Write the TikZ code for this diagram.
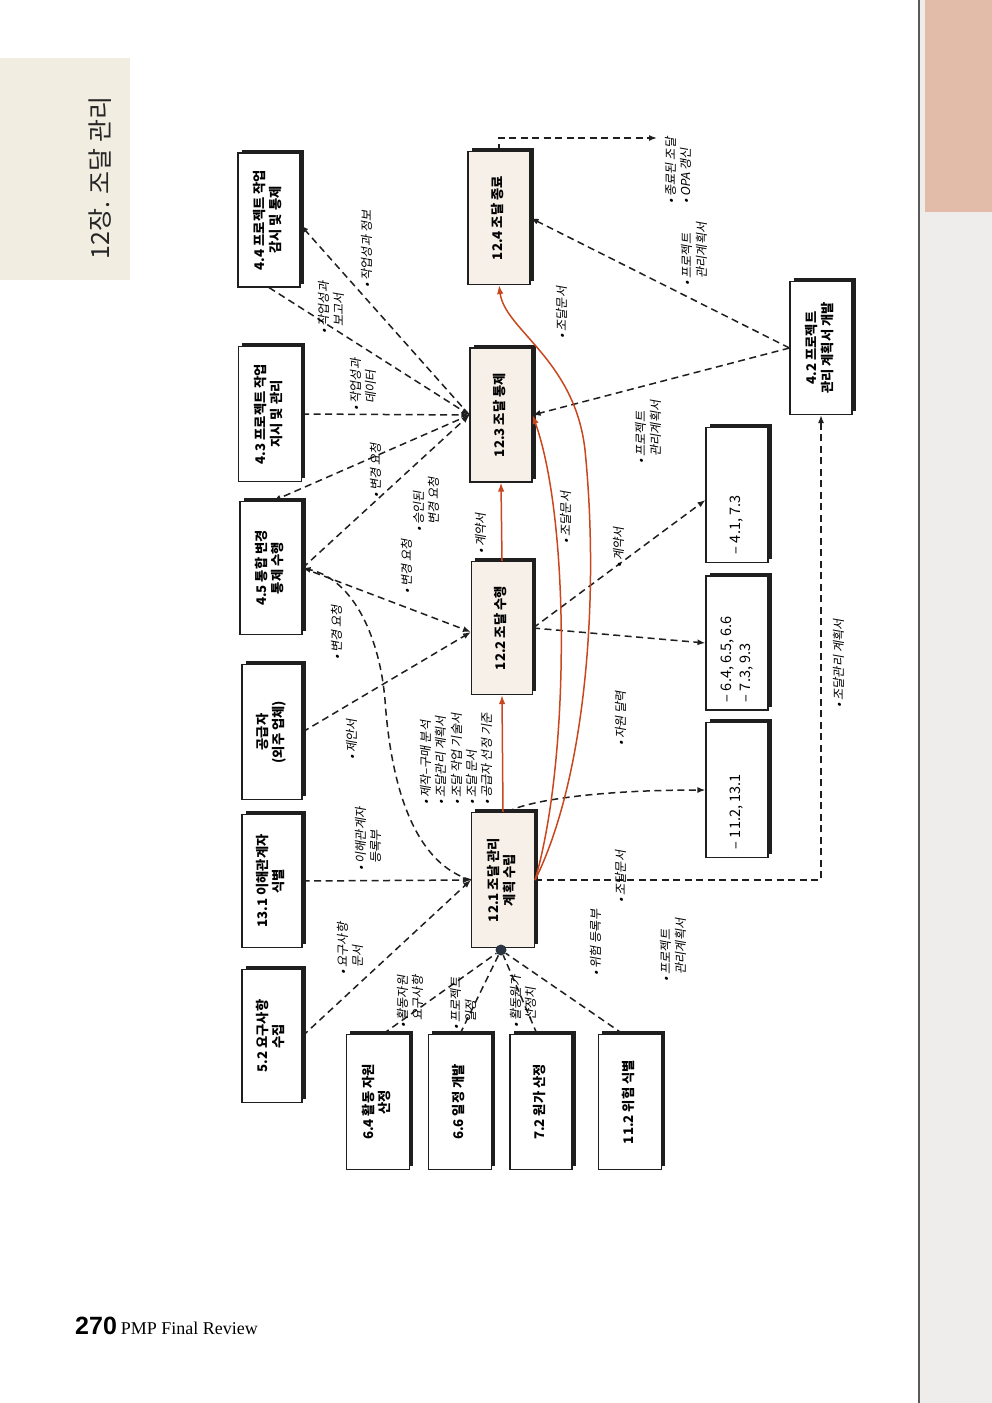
\documentclass[tikz,border=0pt]{standalone}
\usepackage{fontspec}
\usepackage{graphicx}
\setmainfont{Noto Sans CJK KR}
\newfontfamily\slfont{Noto Sans CJK KR}[FakeSlant=0.18]
\newfontfamily\serifface{Liberation Serif}
\newfontfamily\numface{Liberation Sans}
\usetikzlibrary{arrows.meta,shadows,calc}

\definecolor{ink}{HTML}{1F1F1F}
\definecolor{procfill}{HTML}{F7F0E8}
\definecolor{hotline}{HTML}{C9471F}
\definecolor{band}{HTML}{F2EDE1}
\definecolor{hdr}{HTML}{262626}
\definecolor{edgepink}{HTML}{E2BBA9}
\definecolor{edgegray}{HTML}{EEEDEC}
\definecolor{hubfill}{HTML}{2C3642}

% vertical (bottom-to-top) text block
\newcommand{\vt}[2][c]{\rotatebox{90}{\begin{tabular}{@{}#1@{}}#2\end{tabular}}}
\newcommand{\ind}{\phantom{•\ }}

\tikzset{
  box/.style={draw=ink, line width=1.1pt, fill=white, inner sep=0pt,
    general shadow={fill=ink, shadow xshift=3.5pt, shadow yshift=3.5pt},
    font=\bfseries\fontsize{13.3}{16.5}\selectfont},
  proc/.style={box, fill=procfill},
  refbox/.style={box, font=\fontsize{14.5}{19}\selectfont},
  flow/.style={draw=ink, line width=1.5pt, dash pattern=on 7pt off 4.5pt,
    -{Latex[length=8pt,width=6pt]}},
  feed/.style={draw=ink, line width=1.5pt, dash pattern=on 7pt off 4.5pt},
  hot/.style={draw=hotline, line width=1.5pt, -{Latex[length=9pt,width=6.5pt]}},
  lbl/.style={font=\slfont\fontsize{12.3}{15.3}\selectfont, inner sep=0pt, anchor=south},
}

\begin{document}
\begin{tikzpicture}[x=1pt,y=-1pt]
\path[use as bounding box] (0,0) rectangle (992,1403);
\fill[white] (0,0) rectangle (992,1403);

% page edge and chapter tab
\fill[edgegray] (918,0) rectangle (992,1403);
\fill[edgepink] (925,0) rectangle (992,212);
\draw[gray!70!black, line width=2.5pt] (919,0) -- (919,1403);
\fill[band] (0,58) rectangle (130,280);
\node[text=hdr, font=\fontsize{25}{25}\selectfont, inner sep=0pt] (chap) at (100,178) {\rotatebox{90}{12장. 조달 관리}};

% input / output processes
\node[box, minimum width=62pt, minimum height=134pt] (b44) at (269,220) {\vt{4.4 프로젝트 작업\\감시 및 통제}};
\node[box, minimum width=63pt, minimum height=135pt] (b43) at (270,414) {\vt{4.3 프로젝트 작업\\지시 및 관리}};
\node[box, minimum width=62pt, minimum height=133pt] (b45) at (271,568) {\vt{4.5 통합 변경\\통제 수행}};
\node[box, minimum width=60pt, minimum height=135pt] (bsup) at (272,732) {\vt{공급자\\(외주 업체)}};
\node[box, minimum width=60pt, minimum height=133pt] (b131) at (272,881) {\vt{13.1 이해관계자\\식별}};
\node[box, minimum width=60pt, minimum height=133pt] (b52) at (272,1036) {\vt{5.2 요구사항\\수집}};
\node[box, minimum width=63pt, minimum height=135pt] (b64) at (378,1102) {\vt{6.4 활동 자원\\산정}};
\node[box, minimum width=63pt, minimum height=135pt] (b66) at (460,1102) {\vt{6.6 일정 개발}};
\node[box, minimum width=62pt, minimum height=135pt] (b72) at (541,1102) {\vt{7.2 원가 산정}};
\node[box, minimum width=63pt, minimum height=135pt] (b112) at (630,1102) {\vt{11.2 위험 식별}};
\node[box, minimum width=62pt, minimum height=133pt] (b42) at (821,348) {\vt{4.2 프로젝트\\관리 계획서 개발}};

% procurement processes
\node[proc, minimum width=62pt, minimum height=133pt] (p124) at (499,218) {\vt{12.4 조달 종료}};
\node[proc, minimum width=62pt, minimum height=134pt] (p123) at (501,415) {\vt{12.3 조달 통제}};
\node[proc, minimum width=61pt, minimum height=133pt] (p122) at (502,628) {\vt{12.2 조달 수행}};
\node[proc, minimum width=63pt, minimum height=135pt] (p121) at (503,880) {\vt{12.1 조달 관리\\계획 수립}};

% knowledge-area references
\node[refbox, minimum width=62pt, minimum height=135pt] (o1) at (737,495) {\vt{\begin{tabular}{@{}p{118pt}@{}}– 4.1, 7.3\end{tabular}}};
\node[refbox, minimum width=62pt, minimum height=134pt] (o2) at (737,643) {\vt{\begin{tabular}{@{}p{118pt}@{}}– 6.4, 6.5, 6.6\\– 7.3, 9.3\end{tabular}}};
\node[refbox, minimum width=62pt, minimum height=135pt] (o3) at (737,790) {\vt{\begin{tabular}{@{}p{118pt}@{}}– 11.2, 13.1\end{tabular}}};

% junction under 12.1
\node[circle, fill=hubfill, minimum size=11pt, inner sep=0pt] (hub) at (501,950) {};
\coordinate (out124) at (657,138);

% dashed flows
\draw[flow] (b44.south) -- (p123.west);
\draw[flow] (p123.west) -- ($(b44.east)+(0,5)$);
\draw[flow] (b43.east) -- (p123.west);
\draw[flow] (p123.west) -- ($(b45.north)+(2,0)$);
\draw[flow] (b45.east) -- (p123.west);
\draw[flow] (b45.east) -- ($(p122.west)+(0,4)$);
\draw[flow] (bsup.east) -- ($(p122.west)+(0,4)$);
\draw[flow] (p121.west) .. controls (420,865) and (392,800) .. (385,700)
                        .. controls (380,640) and (355,580) .. (b45.east);
\draw[flow] (b131.east) -- (p121.west);
\draw[flow] (b52.east) -- (p121.west);
\draw[feed] ($(b64.north)+(5,0)$) -- (hub);
\draw[feed] (b66.north) -- (hub);
\draw[feed] ($(b72.north)+(-4,0)$) -- (hub);
\draw[feed] ($(b112.north)+(-7,0)$) -- (hub);
\draw[flow] (p122.east) -- (o2.west);
\draw[flow] (p122.east) -- ($(o1.west)+(0,5)$);
\draw[flow] ($(p121.north east)+(-28,0)$) .. controls (530,800) and (600,790) .. (o3.west);
\draw[flow] (p121.east) -| (b42.south);
\draw[flow] (b42.west) -- (p123.east);
\draw[flow] (b42.west) -- (p124.east);
\draw[flow] (p124.north) |- (out124);

% solid procurement chain
\draw[hot] (p121.north) -- (p122.south);
\draw[hot] (p122.north) -- (p123.south);
\draw[hot] (p121.east) .. controls (570,760) and (570,520) .. (p123.east);
\draw[hot] (p121.east) .. controls (585,780) and (600,600) .. (585,450)
                       .. controls (575,360) and (505,330) .. (p124.south);

% labels
\node[lbl] (l1) at (368,288) {\vt[l]{• 작업성과 정보}};
\node[lbl] (l2) at (333,334) {\vt[l]{• 작업성과\\\ind 보고서}};
\node[lbl] (l3) at (365,411) {\vt[l]{• 작업성과\\\ind 데이터}};
\node[lbl] (l4) at (377,498) {\vt[l]{• 변경 요청}};
\node[lbl] (l5) at (428,532) {\vt[l]{• 승인된\\\ind 변경 요청}};
\node[lbl] (l6) at (408,594) {\vt[l]{• 변경 요청}};
\node[lbl] (l7) at (338,660) {\vt[l]{• 변경 요청}};
\node[lbl] (l8) at (353,760) {\vt[l]{• 제안서}};
\node[lbl] (l9) at (370,871) {\vt[l]{• 이해관계자\\\ind 등록부}};
\node[lbl] (l10) at (352,975) {\vt[l]{• 요구사항\\\ind 문서}};
\node[lbl] (l11) at (412,1028) {\vt[l]{• 활동자원\\\ind 요구사항}};
\node[lbl] (l12) at (465,1030) {\vt[l]{• 프로젝트\\\ind 일정}};
\node[lbl] (l13) at (525,1028) {\vt[l]{• 활동원가\\\ind 산정치}};
\node[lbl] (l14) at (597,976) {\vt[l]{• 위험 등록부}};
\node[lbl] (l15) at (675,982) {\vt[l]{• 프로젝트\\\ind 관리계획서}};
\node[lbl] (l16) at (622,903) {\vt[l]{• 조달문서}};
\node[lbl] (l17) at (622,746) {\vt[l]{• 자원 달력}};
\node[lbl] (l18) at (620,568) {\vt[l]{• 계약서}};
\node[lbl] (l19) at (567,544) {\vt[l]{• 조달문서}};
\node[lbl] (l20) at (482,554) {\vt[l]{• 계약서}};
\node[lbl] (l21) at (650,464) {\vt[l]{• 프로젝트\\\ind 관리계획서}};
\node[lbl] (l22) at (563,339) {\vt[l]{• 조달문서}};
\node[lbl] (l23) at (696,286) {\vt[l]{• 프로젝트\\\ind 관리계획서}};
\node[lbl] (l24) at (680,204) {\vt[l]{• 종료된 조달\\• OPA 갱신}};
\node[lbl] (l25) at (840,708) {\vt[l]{• 조달관리 계획서}};
\node[lbl] (l26) at (458,805) {\vt[l]{• 제작–구매 분석\\• 조달관리 계획서\\• 조달 작업 기술서\\• 조달 문서\\• 공급자 선정 기준}};

% folio
\node[anchor=base west, inner sep=0pt] (folio) at (75,1334)
  {{\numface\bfseries\fontsize{25}{25}\selectfont 270}\hspace{4pt}{\serifface\fontsize{18}{18}\selectfont PMP Final Review}};
\end{tikzpicture}
\end{document}
